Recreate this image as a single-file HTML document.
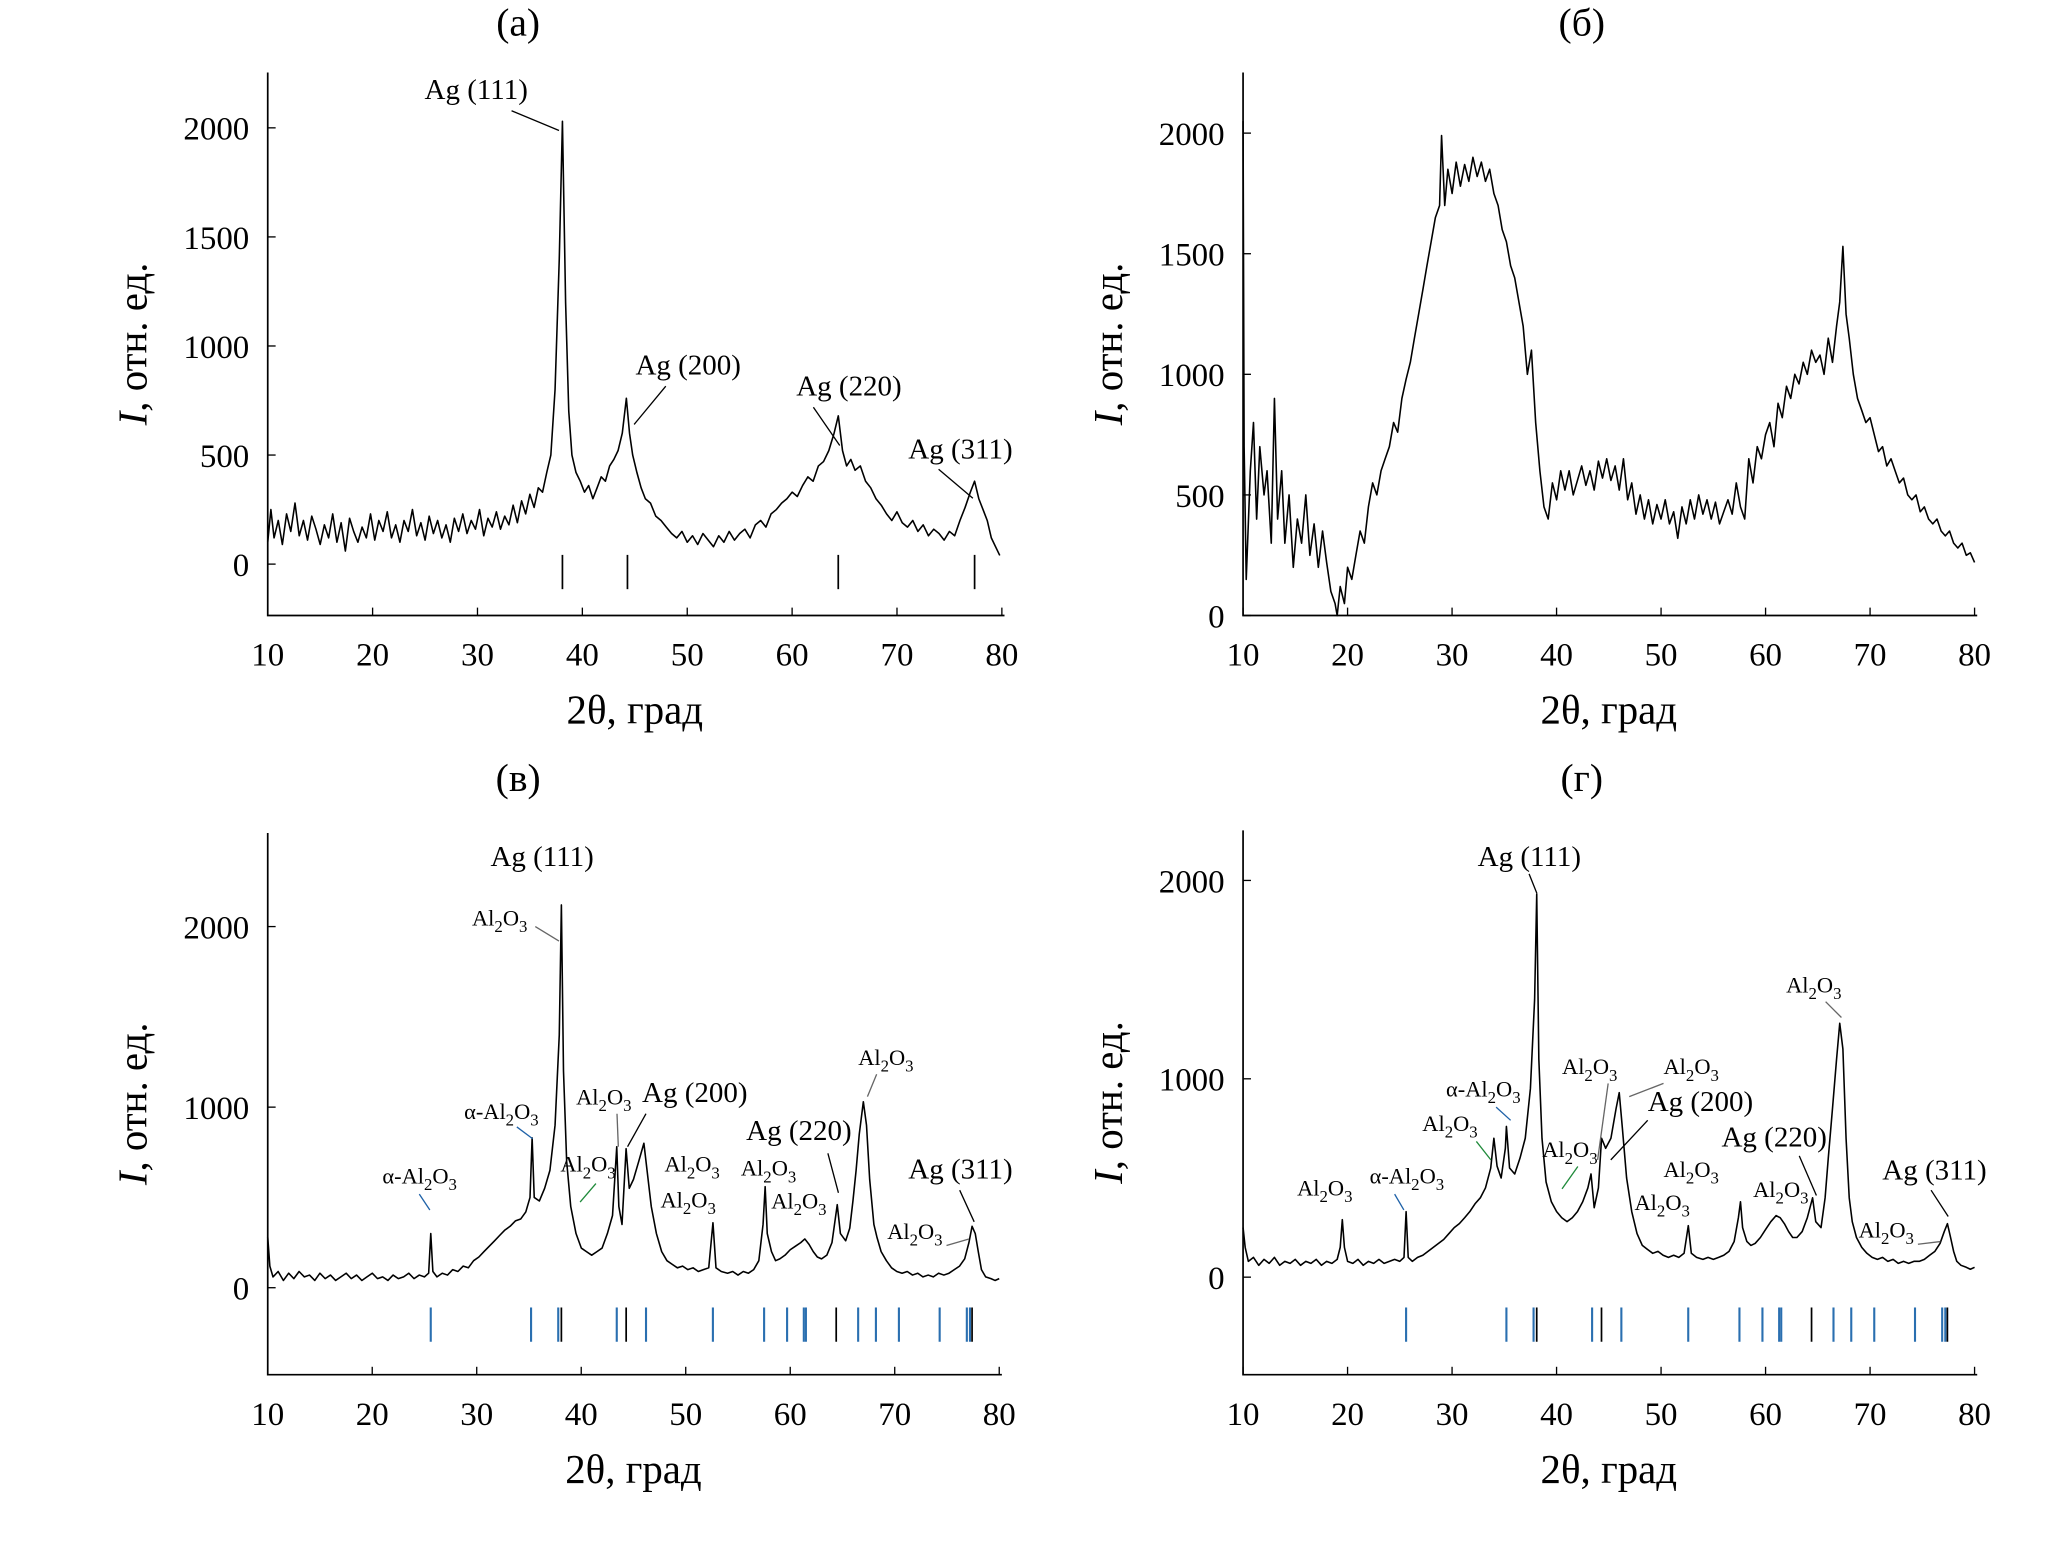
<!DOCTYPE html>
<html><head><meta charset="utf-8"><style>
html,body{margin:0;padding:0;background:#fff}
svg{display:block}
text{font-family:"Liberation Serif",serif;fill:#000}
</style></head><body>
<svg id="fig" width="2067" height="1550" viewBox="0 0 1568 1176" xmlns="http://www.w3.org/2000/svg"></svg>
<script>
const dataA=[[10,100],[10.3,250],[10.6,120],[11,200],[11.4,90],[11.8,230],[12.2,150],[12.6,280],[13,130],[13.4,200],[13.8,110],[14.2,220],[14.6,160],[15,90],[15.4,180],[15.8,120],[16.2,230],[16.6,100],[17,190],[17.4,60],[17.8,210],[18.2,150],[18.6,100],[19,170],[19.4,120],[19.8,230],[20.2,110],[20.6,200],[21,150],[21.4,240],[21.8,120],[22.2,180],[22.6,100],[23,200],[23.4,150],[23.8,250],[24.2,130],[24.6,190],[25,110],[25.4,220],[25.8,140],[26.2,200],[26.6,120],[27,180],[27.4,100],[27.8,210],[28.2,150],[28.6,230],[29,140],[29.4,200],[29.8,160],[30.2,250],[30.6,130],[31,210],[31.4,170],[31.8,240],[32.2,160],[32.6,220],[33,180],[33.4,270],[33.8,190],[34.2,290],[34.6,230],[35,320],[35.4,260],[35.8,350],[36.2,330],[36.6,420],[37,500],[37.4,800],[37.8,1400],[38.1,2030],[38.4,1200],[38.7,700],[39,500],[39.4,420],[39.8,380],[40.2,330],[40.6,360],[41,300],[41.4,350],[41.8,400],[42.2,380],[42.6,450],[43,480],[43.4,520],[43.8,600],[44.2,760],[44.5,600],[44.8,500],[45.2,420],[45.6,350],[46,300],[46.5,280],[47,220],[47.5,200],[48,170],[48.5,140],[49,120],[49.5,150],[50,100],[50.5,130],[51,90],[51.5,140],[52,110],[52.5,80],[53,130],[53.5,100],[54,150],[54.5,110],[55,140],[55.5,160],[56,120],[56.5,180],[57,200],[57.5,170],[58,230],[58.5,250],[59,280],[59.5,300],[60,330],[60.5,310],[61,360],[61.5,400],[62,380],[62.5,450],[63,470],[63.5,520],[64,600],[64.4,680],[64.8,520],[65.2,450],[65.6,480],[66,430],[66.5,450],[67,380],[67.5,350],[68,300],[68.5,270],[69,230],[69.5,200],[70,240],[70.5,190],[71,170],[71.5,200],[72,150],[72.5,180],[73,130],[73.5,160],[74,140],[74.5,110],[75,150],[75.5,130],[76,200],[76.5,260],[77,330],[77.4,380],[77.8,300],[78.2,250],[78.6,200],[79,120],[79.4,80],[79.8,40]];
const dataB=[[10,2050],[10.1,700],[10.3,150],[10.7,600],[11,800],[11.3,400],[11.6,700],[12,500],[12.3,600],[12.7,300],[13,900],[13.3,400],[13.7,600],[14,300],[14.4,500],[14.8,200],[15.2,400],[15.6,300],[16,500],[16.4,250],[16.8,380],[17.2,200],[17.6,350],[18,220],[18.4,100],[18.8,50],[19,0],[19.3,120],[19.7,50],[20,200],[20.4,150],[20.8,250],[21.2,350],[21.6,300],[22,450],[22.4,550],[22.8,500],[23.2,600],[23.6,650],[24,700],[24.4,800],[24.8,760],[25.2,900],[25.6,980],[26,1050],[26.4,1150],[26.8,1250],[27.2,1350],[27.6,1450],[28,1550],[28.4,1650],[28.8,1700],[29,1990],[29.3,1700],[29.6,1850],[30,1750],[30.4,1880],[30.8,1780],[31.2,1870],[31.6,1800],[32,1900],[32.4,1820],[32.8,1880],[33.2,1800],[33.6,1850],[34,1750],[34.4,1700],[34.8,1600],[35.2,1550],[35.6,1450],[36,1400],[36.4,1300],[36.8,1200],[37.2,1000],[37.6,1100],[38,800],[38.4,600],[38.8,450],[39.2,400],[39.6,550],[40,480],[40.4,600],[40.8,520],[41.2,600],[41.6,500],[42,560],[42.4,620],[42.8,540],[43.2,600],[43.6,520],[44,640],[44.4,570],[44.8,650],[45.2,560],[45.6,620],[46,520],[46.4,650],[46.8,480],[47.2,550],[47.6,420],[48,500],[48.4,400],[48.8,480],[49.2,380],[49.6,460],[50,400],[50.4,480],[50.8,380],[51.2,430],[51.6,320],[52,450],[52.4,380],[52.8,480],[53.2,400],[53.6,500],[54,420],[54.4,480],[54.8,400],[55.2,470],[55.6,380],[56,430],[56.4,480],[56.8,420],[57.2,550],[57.6,450],[58,400],[58.4,650],[58.8,550],[59.2,700],[59.6,650],[60,750],[60.4,800],[60.8,700],[61.2,880],[61.6,820],[62,950],[62.4,900],[62.8,1000],[63.2,960],[63.6,1050],[64,1000],[64.4,1100],[64.8,1050],[65.2,1080],[65.6,1000],[66,1150],[66.4,1050],[66.8,1200],[67.1,1300],[67.4,1530],[67.7,1250],[68,1150],[68.4,1000],[68.8,900],[69.2,850],[69.6,800],[70,820],[70.4,750],[70.8,680],[71.2,700],[71.6,620],[72,650],[72.4,600],[72.8,550],[73.2,570],[73.6,500],[74,480],[74.4,500],[74.8,430],[75.2,450],[75.6,400],[76,380],[76.4,400],[76.8,350],[77.2,330],[77.6,350],[78,300],[78.4,280],[78.8,300],[79.2,250],[79.6,260],[80,220]];
const dataC=[[10,280],[10.2,120],[10.5,60],[11,90],[11.5,40],[12,80],[12.5,50],[13,90],[13.5,60],[14,70],[14.5,40],[15,80],[15.5,50],[16,70],[16.5,40],[17,60],[17.5,80],[18,50],[18.5,70],[19,40],[19.5,60],[20,80],[20.5,50],[21,60],[21.5,40],[22,70],[22.5,50],[23,60],[23.5,80],[24,50],[24.5,70],[25,60],[25.4,80],[25.6,300],[25.8,90],[26.2,60],[26.7,80],[27.2,70],[27.7,100],[28.2,90],[28.7,120],[29.2,110],[29.7,150],[30.2,170],[30.7,200],[31.2,230],[31.7,260],[32.2,290],[32.7,320],[33.2,340],[33.7,370],[34.2,380],[34.7,420],[35.1,500],[35.3,830],[35.5,500],[36,480],[36.5,550],[37,650],[37.5,900],[37.9,1400],[38.1,2120],[38.3,1200],[38.6,700],[39,450],[39.5,300],[40,220],[40.5,200],[41,180],[41.5,200],[42,220],[42.5,300],[43,400],[43.4,780],[43.6,450],[43.9,350],[44.3,770],[44.6,550],[45,600],[45.5,700],[46,800],[46.3,650],[46.7,450],[47.2,300],[47.7,200],[48.2,150],[48.7,130],[49.2,110],[49.7,120],[50.2,100],[50.7,110],[51.2,90],[51.7,100],[52.2,110],[52.6,360],[52.9,110],[53.4,90],[54,80],[54.5,90],[55,70],[55.5,90],[56,80],[56.5,100],[57,150],[57.4,350],[57.6,560],[57.8,300],[58.2,200],[58.6,150],[59,160],[59.5,180],[60,210],[60.5,230],[61,250],[61.4,270],[61.8,240],[62.2,200],[62.6,170],[63,160],[63.5,180],[64,250],[64.5,460],[64.8,300],[65.3,260],[65.7,330],[66,480],[66.3,650],[66.6,850],[67,1030],[67.3,900],[67.6,600],[68,350],[68.3,280],[68.7,200],[69.2,150],[69.7,110],[70.2,90],[70.7,80],[71.2,90],[71.7,70],[72.2,80],[72.7,60],[73.2,70],[73.7,60],[74.2,80],[74.7,70],[75.2,80],[75.7,100],[76.2,120],[76.7,160],[77.1,250],[77.4,340],[77.7,300],[78,200],[78.3,100],[78.7,60],[79.2,50],[79.6,40],[80,50]];
const dataD=[[10,250],[10.2,150],[10.5,80],[11,100],[11.5,60],[12,90],[12.5,70],[13,100],[13.5,60],[14,80],[14.5,70],[15,90],[15.5,60],[16,80],[16.5,70],[17,90],[17.5,60],[18,80],[18.5,70],[19,90],[19.3,150],[19.5,290],[19.7,150],[20,80],[20.5,70],[21,90],[21.5,60],[22,80],[22.5,70],[23,90],[23.5,70],[24,80],[24.5,90],[25,80],[25.4,100],[25.6,330],[25.8,100],[26.2,80],[26.7,100],[27.2,110],[27.7,130],[28.2,150],[28.7,170],[29.2,190],[29.7,220],[30.2,250],[30.7,270],[31.2,300],[31.7,330],[32.2,370],[32.7,400],[33.2,450],[33.7,550],[34,700],[34.3,560],[34.7,500],[35.1,650],[35.2,760],[35.5,550],[36,520],[36.5,600],[37,700],[37.5,950],[37.9,1400],[38.1,1930],[38.3,1100],[38.6,700],[39,480],[39.5,380],[40,330],[40.5,300],[41,280],[41.5,300],[42,330],[42.5,380],[43,450],[43.3,520],[43.6,350],[44,450],[44.3,700],[44.7,650],[45.2,700],[45.7,850],[46,930],[46.3,750],[46.7,500],[47.2,330],[47.7,220],[48.2,160],[48.7,140],[49.2,120],[49.7,130],[50.2,110],[50.7,100],[51.2,110],[51.7,100],[52.2,120],[52.6,260],[52.9,120],[53.4,100],[54,90],[54.5,100],[55,90],[55.5,100],[56,110],[56.5,130],[57,180],[57.4,300],[57.6,380],[57.8,250],[58.2,180],[58.6,160],[59,170],[59.5,200],[60,240],[60.5,280],[61,310],[61.4,300],[61.8,270],[62.2,230],[62.6,200],[63,200],[63.5,230],[64,300],[64.5,400],[64.8,280],[65.3,250],[65.7,400],[66,600],[66.4,850],[66.8,1100],[67.1,1280],[67.4,1150],[67.7,700],[68,400],[68.3,280],[68.7,200],[69.2,150],[69.7,120],[70.2,100],[70.7,90],[71.2,100],[71.7,80],[72.2,90],[72.7,70],[73.2,80],[73.7,70],[74.2,80],[74.7,80],[75.2,90],[75.7,110],[76.2,130],[76.7,170],[77.1,230],[77.4,270],[77.7,200],[78,130],[78.3,80],[78.7,60],[79.2,50],[79.6,40],[80,50]];
const xTicks=[10,20,30,40,50,60,70,80];
const yTicksA=[0,500,1000,1500,2000];
const yTicksB=[0,500,1000,1500,2000];
const yTicksC=[0,1000,2000];
const yTicksD=[0,1000,2000];
const agRefs=[38.1,44.3,64.4,77.4];
const alRefs=[25.6,35.2,37.8,43.4,46.2,52.6,57.5,59.7,61.3,61.5,66.5,68.2,70.4,74.3,76.9,77.2];

const NS='http://www.w3.org/2000/svg';
const svg=document.getElementById('fig');
function mk(tag,attrs,parent){const e=document.createElementNS(NS,tag);for(const k in attrs)e.setAttribute(k,attrs[k]);(parent||svg).appendChild(e);return e;}
function txt(x,y,s,size,parent,anchor,fill){const t=mk('text',{x:x,y:y,'font-size':size,'text-anchor':anchor||'middle',fill:fill||'#000'},parent);t.textContent=s;return t;}
function chem(x,y,pre,size,fill,parent){
  const t=mk('text',{x:x,y:y,'font-size':size,fill:fill,'text-anchor':'start'},parent);
  
  
  const parts=[[pre+'Al',0],['2',1],['O',0],['3',1]];
  parts.forEach(p=>{const s=mk('tspan',{},t);s.textContent=p[0];if(p[1]){s.setAttribute('font-size',size*0.75);s.setAttribute('dy',5);}else if(s.previousSibling){s.setAttribute('dy',-5);}});
  t.lastChild.setAttribute('dy',5);
  return t;
}
function panel(cfg){
  const g=mk('g',{});
  
  
  const xs=v=>cfg.x0+(v-10)*(cfg.x1-cfg.x0)/70;
  const ys=v=>cfg.y0-v*(cfg.y0-cfg.y2000)/2000;
  const ax=mk('path',{d:`M${cfg.x0},${cfg.top}V${cfg.bottom}H${cfg.x1+2}`,stroke:'#000','stroke-width':1.3,fill:'none'},g);
  
  
  xTicks.forEach(v=>{
    mk('line',{x1:xs(v),x2:xs(v),y1:cfg.bottom,y2:cfg.bottom-6,stroke:'#000','stroke-width':1},g);
    const t=txt(xs(v),cfg.bottom+38,String(v),25,g);
    
    
  });
  cfg.yt.forEach(v=>{
    mk('line',{x1:cfg.x0,x2:cfg.x0+6,y1:ys(v),y2:ys(v),stroke:'#000','stroke-width':1},g);
    const t=txt(cfg.x0-14,ys(v)+9,String(v),25,g,'end');
    
    
  });
  const xt=txt((cfg.x0+cfg.x1)/2,cfg.bottom+82,'2θ, град',31,g);
  
  
  const yt=mk('text',{transform:`translate(${cfg.x0-92},${(cfg.top+cfg.bottom)/2}) rotate(-90)`,'font-size':31,'text-anchor':'middle'},g);
  
  
  const it=mk('tspan',{'font-style':'italic'},yt);it.textContent='I';
  const rt=mk('tspan',{},yt);rt.textContent=', отн. ед.';
  const tt=txt(cfg.titleX,cfg.titleY,cfg.title,30,g);
  
  
  const d=cfg.data.map((p,i)=>(i?'L':'M')+xs(p[0]).toFixed(1)+','+ys(p[1]).toFixed(1)).join('');
  const ln=mk('path',{d:d,stroke:'#000','stroke-width':1.2,fill:'none','stroke-linejoin':'round'},g);
  
  
  if(cfg.refs){
    if(cfg.al) cfg.al.forEach(v=>{const l=mk('line',{x1:xs(v),x2:xs(v),y1:cfg.refY,y2:cfg.refY+26,stroke:'#2a6fb0','stroke-width':1.6},g);
      });
    cfg.refs.forEach(v=>{const l=mk('line',{x1:xs(v),x2:xs(v),y1:cfg.refY,y2:cfg.refY+26,stroke:'#000','stroke-width':1.3},g);
      });
  }
  return {g,xs,ys};
}
function lead(g,x1,y1,x2,y2,c){mk('line',{x1,y1,x2,y2,stroke:c||'#000','stroke-width':1},g);}
function lab(g,x,y,s,size){const t=txt(x,y,s,size||22,g,'start');return t;}

const A=panel({name:'panel-a',title:'(а)',titleX:393,titleY:27,x0:203,x1:760,top:55,bottom:467,y0:428,y2000:97,yt:yTicksA,data:dataA,refs:agRefs,refY:421});
lab(A.g,322,75,'Ag (111)');lead(A.g,388,84,424,99);
lab(A.g,482,284,'Ag (200)');lead(A.g,505,293,481,322);
lab(A.g,604,300,'Ag (220)');lead(A.g,617,309,637,338);
lab(A.g,689,348,'Ag (311)');lead(A.g,712,356,738,378);

panel({name:'panel-b',title:'(б)',titleX:1200,titleY:27,x0:943,x1:1498,top:55,bottom:467,y0:467,y2000:101,yt:yTicksB,data:dataB});

const G='#666',B='#1f62a8',Gr='#1f8a3a';
const C=panel({name:'panel-c',title:'(в)',titleX:393,titleY:600,x0:203,x1:758,top:632,bottom:1043,y0:977,y2000:703,yt:yTicksC,data:dataC,refs:agRefs,al:alRefs,refY:992});
lab(C.g,372,657,'Ag (111)');
chem(358,702,'',17,G,C.g);lead(C.g,406,703,424,714,G);
chem(352,849,'α-',17,B,C.g);lead(C.g,392,855,404,864,B);
chem(290,898,'α-',17,B,C.g);lead(C.g,318,906,326,918,B);
chem(437,838,'',17,G,C.g);lead(C.g,468,845,469,870,G);
lab(C.g,487,836,'Ag (200)');lead(C.g,490,845,476,870);
chem(425,889,'',17,Gr,C.g);lead(C.g,452,898,440,912,Gr);
chem(504,889,'',17,G,C.g);
chem(501,916,'',17,G,C.g);
chem(562,892,'',17,G,C.g);
chem(585,917,'',17,G,C.g);
chem(651,808,'',17,G,C.g);lead(C.g,665,815,658,832,G);
lab(C.g,566,865,'Ag (220)');lead(C.g,628,875,636,905);
lab(C.g,689,894,'Ag (311)');lead(C.g,728,903,739,927);
chem(673,940,'',17,G,C.g);lead(C.g,718,945,735,940,G);

const D=panel({name:'panel-d',title:'(г)',titleX:1200,titleY:600,x0:943,x1:1498,top:630,bottom:1043,y0:969,y2000:668,yt:yTicksD,data:dataD,refs:agRefs,al:alRefs,refY:992});
lab(D.g,1121,657,'Ag (111)');lead(D.g,1160,663,1166,678);
chem(1355,753,'',17,G,D.g);lead(D.g,1385,760,1397,772,G);
chem(1185,815,'',17,G,D.g);lead(D.g,1220,822,1212,880,G);
chem(1262,815,'',17,G,D.g);lead(D.g,1262,822,1236,832,G);
lab(D.g,1250,843,'Ag (200)');lead(D.g,1250,850,1222,880);
chem(1097,832,'α-',17,B,D.g);lead(D.g,1135,840,1146,850,B);
chem(1079,858,'',17,Gr,D.g);lead(D.g,1120,866,1131,880,Gr);
chem(1170,878,'',17,Gr,D.g);lead(D.g,1197,885,1185,902,Gr);
chem(984,907,'',17,G,D.g);
chem(1039,898,'α-',17,B,D.g);lead(D.g,1058,906,1065,918,B);
chem(1262,893,'',17,G,D.g);
chem(1240,918,'',17,G,D.g);
chem(1330,908,'',17,G,D.g);
lab(D.g,1306,870,'Ag (220)');lead(D.g,1365,877,1378,907);
lab(D.g,1428,895,'Ag (311)');lead(D.g,1465,903,1478,923);
chem(1410,939,'',17,G,D.g);lead(D.g,1455,944,1472,942,G);
</script>
</body></html>
